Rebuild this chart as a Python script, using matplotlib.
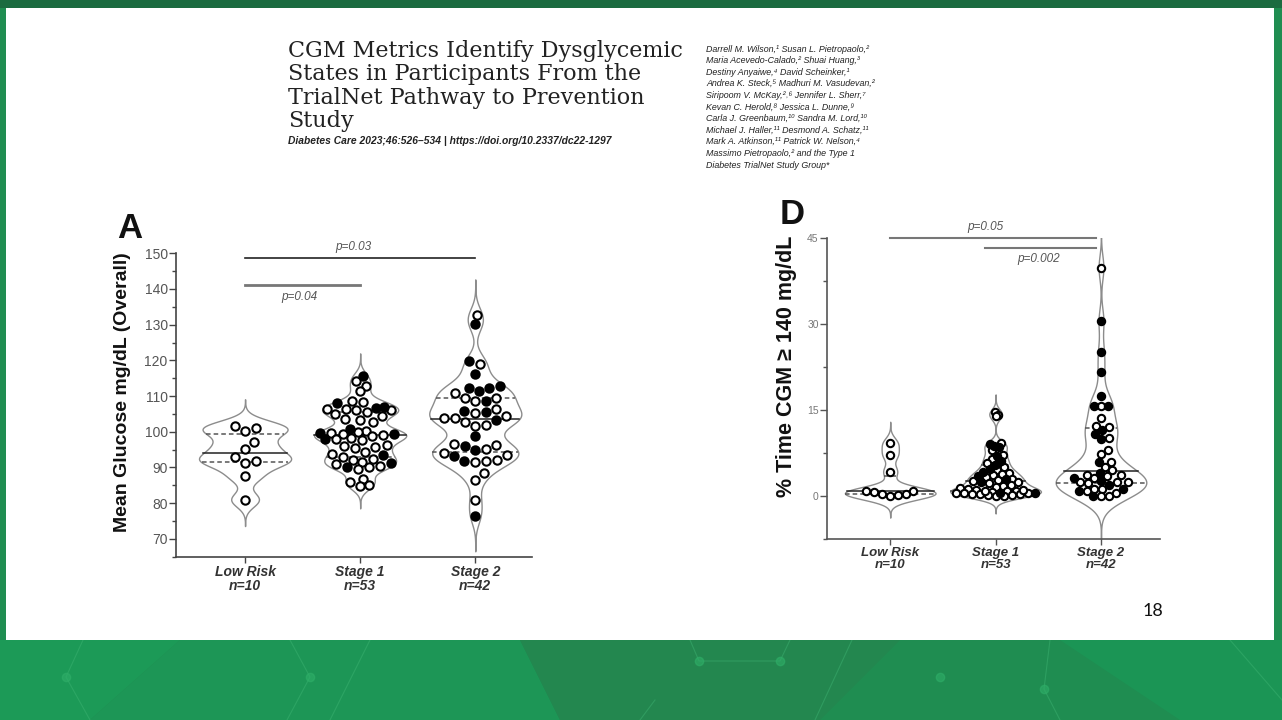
import numpy as np
import matplotlib
matplotlib.use('Agg')
import matplotlib.pyplot as plt
from matplotlib.patches import Rectangle, Polygon
from matplotlib.ticker import MultipleLocator

W, H = 1282, 720
plt.rcParams['font.family'] = ['Liberation Sans', 'DejaVu Sans']

groups = ['Low Risk', 'Stage 1', 'Stage 2']
group_n = [10, 53, 42]

# panel A: mean glucose mg/dL, open / filled symbols
a_low_open = [101.0, 100.3, 101.7, 97.0, 95.2, 92.8, 91.8, 91.3, 87.5, 81.0]
a_low_filled = []
a_s1_open = [114.3, 112.8, 111.4, 108.6, 108.4, 106.4, 106.3, 106.2, 106.0, 105.6,
             105.0, 104.4, 103.6, 103.2, 102.6, 100.2, 99.9, 99.6, 99.5, 99.2,
             98.8, 98.3, 98.0, 97.8, 96.3, 96.0, 95.6, 95.4, 94.3, 93.8,
             93.0, 92.5, 92.0, 91.5, 91.0, 90.4, 90.0, 89.5, 86.8, 86.0,
             85.2, 84.8]
a_s1_filled = [115.7, 108.0, 106.7, 106.9, 100.9, 99.6, 99.4, 98.0, 93.5, 91.2, 90.2]
a_s2_open = [132.7, 118.9, 111.0, 109.6, 109.6, 108.5, 106.4, 105.2, 104.3, 102.7,
             103.8, 103.8, 101.7, 102.0, 96.2, 95.3, 96.7, 94.0, 93.6, 91.7,
             92.2, 91.5, 88.5, 86.6, 80.8]
a_s2_filled = [130.2, 119.7, 116.2, 112.4, 112.7, 112.2, 111.3, 108.5, 105.9, 105.4,
               103.4, 98.7, 95.9, 95.0, 93.1, 91.7, 76.5]

# panel D: % time CGM >= 140 mg/dL
d_low_open = [9.2, 7.2, 4.25, 0.35, 0.9, 0.35, 0.9, 0.0, 0.75, 0.2]
d_low_filled = []
d_s1_open = [14.7, 14.2, 13.9, 9.2, 8.0, 7.2, 6.5, 5.8, 5.0, 4.5,
             4.0, 3.6, 3.3, 3.0, 2.8, 2.5, 2.2, 2.0, 1.8, 1.6,
             1.4, 1.2, 1.0, 0.9, 0.8, 0.7, 0.6, 0.5, 0.5, 0.4,
             0.3, 0.3, 0.2, 0.1, 0.0, 0.0, 0.8, 1.1, 2.6, 3.8]
d_s1_filled = [9.0, 8.8, 8.5, 7.0, 6.2, 5.5, 4.8, 4.2, 3.5, 2.9, 2.4, 0.6, 0.5]
d_s2_open = [39.9, 15.8, 13.7, 12.3, 12.0, 10.2, 8.0, 7.3, 6.0, 5.1,
             4.5, 3.6, 3.6, 3.1, 3.5, 2.4, 2.2, 2.4, 2.4, 1.3,
             1.3, 0.8, 0.0, 0.6, 0.0]
d_s2_filled = [30.6, 25.2, 21.7, 17.5, 15.8, 15.8, 11.5, 10.0, 10.8, 5.9,
               4.1, 3.2, 2.6, 2.0, 1.3, 0.9, 0.0]

a_pvals = [('p=0.03', 1, 3), ('p=0.04', 1, 2)]
d_pvals = [('p=0.05', 1, 3), ('p=0.002', 2, 3)]

title_lines = ['CGM Metrics Identify Dysglycemic', 'States in Participants From the',
               'TrialNet Pathway to Prevention', 'Study']
citation = 'Diabetes Care 2023;46:526\u2013534 | https://doi.org/10.2337/dc22-1297'
authors = ['Darrell M. Wilson,\u00b9 Susan L. Pietropaolo,\u00b2',
           'Maria Acevedo-Calado,\u00b2 Shuai Huang,\u00b3',
           'Destiny Anyaiwe,\u2074 David Scheinker,\u00b9',
           'Andrea K. Steck,\u2075 Madhuri M. Vasudevan,\u00b2',
           'Siripoom V. McKay,\u00b2\u02d2\u2076 Jennifer L. Sherr,\u2077',
           'Kevan C. Herold,\u2078 Jessica L. Dunne,\u2079',
           'Carla J. Greenbaum,\u00b9\u2070 Sandra M. Lord,\u00b9\u2070',
           'Michael J. Haller,\u00b9\u00b9 Desmond A. Schatz,\u00b9\u00b9',
           'Mark A. Atkinson,\u00b9\u00b9 Patrick W. Nelson,\u2074',
           'Massimo Pietropaolo,\u00b2 and the Type 1',
           'Diabetes TrialNet Study Group*']


def px_axes(left, top, right, bottom):
    return fig.add_axes([left / W, 1 - bottom / H, (right - left) / W, (bottom - top) / H])


def kde(vals, grid, h):
    z = (grid[:, None] - vals[None, :]) / h
    return np.exp(-0.5 * z ** 2).sum(axis=1)


def swarm_x(ax, pos, vals, dist_px, grid, w):
    # greedy beeswarm in pixel space, kept inside the violin outline
    tr = ax.transData
    ypx = tr.transform(np.column_stack([np.full(len(vals), pos), vals]))[:, 1]
    xunit = tr.transform([[pos + 1, 0]])[0, 0] - tr.transform([[pos, 0]])[0, 0]
    lim = np.maximum(np.interp(vals, grid, w) * xunit - 4, 0)
    steps = np.arange(1, 150, 1.0)
    cands = np.concatenate([[0.0], np.column_stack([steps, -steps]).ravel()])
    px, py = np.empty(0), np.empty(0)
    offs = np.zeros(len(vals))
    for i in np.argsort(ypx, kind='stable'):
        cc = cands[np.abs(cands) <= lim[i]]
        if px.size == 0:
            c = 0.0
        else:
            d2 = ((cc[:, None] - px[None, :]) ** 2 + (ypx[i] - py[None, :]) ** 2).min(axis=1)
            ok = np.nonzero(d2 >= dist_px ** 2)[0]
            c = cc[ok[0]] if ok.size else cc[np.argmax(d2)]
        offs[i] = c / xunit
        px = np.append(px, c)
        py = np.append(py, ypx[i])
    return offs


def draw_violin(ax, pos, opn, fil, halfw, dist_px, ms):
    vals = np.array(opn + fil, float)
    filled = np.array([False] * len(opn) + [True] * len(fil))
    h = 0.5 * vals.std(ddof=1) * len(vals) ** -0.2
    grid = np.linspace(vals.min() - 3.6 * h, vals.max() + 3.6 * h, 500)
    w = kde(vals, grid, h)
    w = w / w.max() * halfw
    ax.fill_betweenx(grid, pos - w, pos + w, facecolor='white', edgecolor='#8c8c8c',
                     lw=1.0, zorder=1)
    q1, med, q3 = np.percentile(vals, [25, 50, 75])
    for q, ls, c in [(q1, (0, (3, 2)), '#555555'), (q3, (0, (3, 2)), '#555555'), (med, '-', '#222222')]:
        wq = np.interp(q, grid, w)
        ax.plot([pos - wq, pos + wq], [q, q], ls=ls, color=c, lw=1.1, zorder=2)
    xo = pos + swarm_x(ax, pos, vals, dist_px, grid, w)
    ax.scatter(xo[~filled], vals[~filled], s=ms, facecolor='white', edgecolor='black',
               lw=1.5, zorder=3)
    ax.scatter(xo[filled], vals[filled], s=ms, facecolor='black', edgecolor='black',
               lw=1.5, zorder=3)


def style_axes(ax, spine_col, lab_col, lab_size, xlab_size):
    for s in ['top', 'right']:
        ax.spines[s].set_visible(False)
    for s in ['left', 'bottom']:
        ax.spines[s].set_color(spine_col)
        ax.spines[s].set_linewidth(1.2)
    ax.set_facecolor('none')
    ax.tick_params(axis='y', which='major', length=5, width=1, color=spine_col,
                   labelsize=lab_size, labelcolor=lab_col, pad=1)
    ax.tick_params(axis='y', which='minor', length=3, width=1, color=spine_col)
    ax.tick_params(axis='x', length=4, width=1, color=spine_col, pad=2)
    ax.set_xticks([1, 2, 3])
    ax.set_xticklabels([f'{g}\nn={n}' for g, n in zip(groups, group_n)],
                       fontstyle='italic', fontweight='bold', fontsize=xlab_size,
                       color='#333333')
    for t in ax.get_xticklabels():
        t.set_linespacing(1.0)


fig = plt.figure(figsize=(W / 100, H / 100), dpi=100)
fig.patch.set_facecolor('#1f8d51')

# slide frame: dark top strip, shaded green footer with faint network lines
def fig_poly(pts, **kw):
    fig.add_artist(Polygon([(x / W, 1 - y / H) for x, y in pts], closed=True,
                           transform=fig.transFigure, zorder=-11, **kw))

fig_poly([(0, 640), (180, 640), (90, 720), (0, 720)], facecolor='#1c9a57', edgecolor='none')
fig_poly([(180, 640), (520, 640), (560, 720), (90, 720)], facecolor='#1d9656', edgecolor='none')
fig_poly([(520, 640), (900, 640), (820, 720), (560, 720)], facecolor='#23874f', edgecolor='none')
fig_poly([(1060, 640), (1282, 640), (1282, 720), (1180, 720)], facecolor='#1b9555', edgecolor='none')
for seg in [[(83, 640), (66, 677), (90, 720)], [(290, 640), (310, 677), (287, 720)],
            [(370, 640), (330, 720)], [(690, 640), (699, 661), (780, 661), (790, 640)],
            [(852, 640), (815, 720)], [(1050, 640), (1044, 689), (1060, 720)],
            [(640, 720), (655, 700)], [(1230, 640), (1282, 700)]]:
    xs, ys = zip(*seg)
    fig.add_artist(plt.Line2D([x / W for x in xs], [1 - y / H for y in ys],
                              transform=fig.transFigure, color='#3fb574', lw=0.8,
                              alpha=0.45, zorder=-10))
for x, y in [(66, 677), (310, 677), (699, 661), (780, 661), (940, 677), (1044, 689)]:
    fig.add_artist(plt.Line2D([x / W], [1 - y / H], transform=fig.transFigure, marker='o',
                              ms=6, color='#2fae68', alpha=0.6, zorder=-10))
fig.add_artist(Rectangle((0, 1 - 8 / H), 1, 8 / H, transform=fig.transFigure,
                         facecolor='#1b6b40', edgecolor='none', zorder=-10))
fig.add_artist(Rectangle((6 / W, 1 - 640 / H), 1268 / W, 632 / H, transform=fig.transFigure,
                         facecolor='white', edgecolor='none', zorder=-9))

# header text
for i, line in enumerate(title_lines):
    fig.text(288 / W, 1 - (57 + 23.3 * i) / H, line, family='DejaVu Serif', fontsize=16,
             color='#222222', va='baseline')
fig.text(288 / W, 1 - 144 / H, citation, fontsize=7.4, fontstyle='italic',
         fontweight='bold', color='#222222', va='baseline')
for i, line in enumerate(authors):
    fig.text(706 / W, 1 - (49 + 11.6 * i) / H, line, fontsize=6.4, fontstyle='italic',
             color='#222222', va='center')
fig.text(1153 / W, 1 - 611 / H, '18', family=['Lato', 'DejaVu Sans'], fontsize=13,
         color='#111111', ha='center', va='center')

# panel A
axA = px_axes(176, 253.3, 531.7, 556.7)
axA.set_xlim(0.4, 3.49)
axA.set_ylim(65, 150)
style_axes(axA, '#444444', '#555555', 10, 10)
axA.set_yticks(np.arange(70, 151, 10))
axA.yaxis.set_minor_locator(MultipleLocator(5))
for k, (o, f) in enumerate([(a_low_open, a_low_filled), (a_s1_open, a_s1_filled),
                            (a_s2_open, a_s2_filled)]):
    draw_violin(axA, k + 1, o, f, 0.40, 10.5, 36)
axA.set_ylabel('Mean Glucose mg/dL (Overall)', fontsize=14, fontweight='bold', color='#111111')
axA.yaxis.set_label_coords(-0.127, 0.541)
for (txt, x0, x1), yb, col, lw, dy, va in zip(a_pvals, [148.6, 141.1], ['#222222', '#777777'],
                                              [1.2, 2.0], [1.6, -1.6], ['bottom', 'top']):
    axA.plot([x0, x1], [yb, yb], color=col, lw=lw, clip_on=False)
    xm = (x0 + x1) / 2 - 0.06 if x1 - x0 > 1 else x0 + 0.47
    axA.text(xm, yb + dy, txt, fontsize=8.5, fontstyle='italic', color='#555555',
             ha='center', va=va)
fig.text(117 / W, 1 - 238 / H, 'A', fontsize=25, fontweight='bold', color='#111111',
         va='baseline')

# panel D
axD = px_axes(827, 238.3, 1160, 539)
axD.set_xlim(0.4, 3.56)
axD.set_ylim(-7.5, 45)
style_axes(axD, '#555555', '#777777', 7.5, 9.5)
axD.set_yticks([0, 15, 30, 45])
axD.yaxis.set_minor_locator(MultipleLocator(7.5))
for k, (o, f) in enumerate([(d_low_open, d_low_filled), (d_s1_open, d_s1_filled),
                            (d_s2_open, d_s2_filled)]):
    draw_violin(axD, k + 1, o, f, 0.43, 7.5, 28)
axD.set_ylabel('% Time CGM \u2265 140 mg/dL', fontsize=15.5, fontweight='bold', color='#111111')
axD.yaxis.set_label_coords(-0.09, 0.574)
for (txt, x0, x1), yb, dy, va, xm in zip(d_pvals, [45, 43.25], [0.9, -0.9], ['bottom', 'top'],
                                         [1.9, 2.41]):
    axD.plot([x0 if x1 - x0 > 1 else x0 - 0.1, x1 - 0.05], [yb, yb], color='#777777', lw=1.5,
             clip_on=False)
    axD.text(xm, yb + dy, txt, fontsize=8.5, fontstyle='italic', color='#555555',
             ha='center', va=va)
fig.text(780 / W, 1 - 224 / H, 'D', fontsize=25, fontweight='bold', color='#111111',
         va='baseline')

fig.savefig('out.png', dpi=100, facecolor=fig.get_facecolor())
